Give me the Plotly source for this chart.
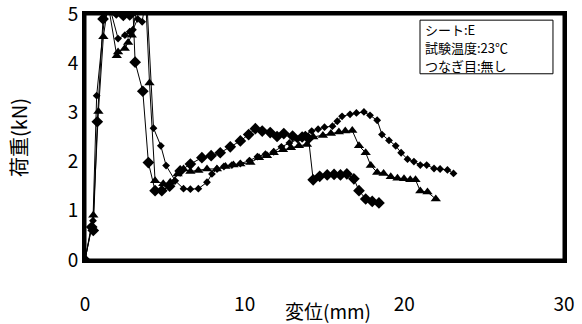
import plotly.graph_objects as go

# Load–displacement curves, three specimens
disp_a = [0, 0.42, 0.52, 0.77, 1.13, 1.5, 1.96, 2.4, 2.8, 3.0, 3.14, 3.62, 3.97, 4.39,
          4.81, 5.3, 5.96, 6.6, 7.32, 7.9, 8.47, 9.1, 9.73, 10.25, 10.67, 11.1, 11.6,
          12.03, 12.45, 13.0, 13.6, 14.0, 14.29, 14.7, 15.17, 15.6, 16.0, 16.4, 16.84,
          17.16, 17.58, 17.99, 18.41]
load_a = [0, 0.67, 0.6, 2.81, 4.9, 5.3, 5.02, 4.97, 4.98, 5.1, 4.02, 3.43, 1.98, 1.41,
          1.41, 1.5, 1.81, 1.95, 2.08, 2.12, 2.18, 2.3, 2.42, 2.55, 2.67, 2.62, 2.59,
          2.51, 2.57, 2.52, 2.5, 2.47, 1.63, 1.7, 1.73, 1.74, 1.73, 1.75, 1.65,
          1.41, 1.24, 1.19, 1.16]

disp_b = [0, 0.52, 0.84, 1.15, 1.45, 1.99, 2.07, 2.49, 2.7, 2.93, 3.3, 3.8, 4.04, 4.39,
          4.9, 5.34, 5.8, 6.17, 6.6, 7.1, 7.64, 8.26, 8.8, 9.3, 9.73, 10.36, 10.9, 11.4,
          11.82, 12.4, 12.9, 13.4, 13.9, 14.3, 14.9, 15.4, 15.9, 16.3, 16.74, 17.16,
          17.58, 17.9, 18.3, 18.7, 19.15, 19.57, 19.98, 20.37, 20.7, 21.0, 21.45, 21.97]
load_b = [0, 0.91, 3.02, 4.54, 5.2, 4.15, 4.23, 4.3, 4.42, 4.57, 5.2, 5.3, 3.6, 1.61,
          1.55, 1.58, 1.75, 1.85, 1.8, 1.82, 1.85, 1.85, 1.9, 1.93, 1.95, 1.98, 2.08, 2.12,
          2.18, 2.24, 2.28, 2.32, 2.35, 2.5, 2.53, 2.57, 2.6, 2.62, 2.63, 2.32,
          2.18, 1.92, 1.78, 1.76, 1.69, 1.66, 1.65, 1.63, 1.63, 1.4, 1.38, 1.24]

disp_c = [0, 0.5, 0.73, 1.21, 1.5, 2.07, 2.5, 2.8, 3.0, 3.3, 3.58, 3.85, 4.29, 4.75,
          5.08, 5.65, 6.17, 6.6, 7.1, 7.64, 7.95, 8.27, 8.7, 9.2, 9.73, 10.3, 10.8,
          11.3, 11.82, 12.3, 12.8, 13.3, 13.8, 14.2, 14.6, 15.0, 15.5, 15.8, 16.1,
          16.6, 17.0, 17.47, 17.85, 18.3, 18.6, 19.04, 19.46, 19.8, 20.2, 20.6, 21.0,
          21.4, 21.86, 22.24, 22.7, 23.08]
load_c = [0, 0.8, 3.34, 4.9, 5.2, 4.5, 4.57, 4.64, 4.68, 4.9, 4.84, 5.4, 2.68, 2.32,
          1.92, 1.61, 1.45, 1.44, 1.45, 1.58, 1.75, 1.85, 1.9, 1.93, 1.96, 2.02, 2.1,
          2.15, 2.2, 2.3, 2.38, 2.45, 2.55, 2.62, 2.66, 2.7, 2.72, 2.82, 2.92,
          2.96, 2.99, 3.01, 2.94, 2.84, 2.55, 2.43, 2.32, 2.18, 2.05, 2.0, 1.93,
          1.93, 1.86, 1.85, 1.83, 1.76]

x_ticks = [0, 10, 20, 30]
x_tick_labels = ["0", "10", "20", "30"]
y_ticks = [0, 1, 2, 3, 4, 5]
info_lines = ["シート:E", "試験温度:23℃", "つなぎ目:無し"]

FONT = "Noto Sans CJK JP"

fig = go.Figure()
series = [
    (disp_a, load_a, "diamond", 9),
    (disp_b, load_b, "triangle-up", 9),
    (disp_c, load_c, "diamond", 6),
]
for xs, ys, sym, size in series:
    fig.add_trace(go.Scatter(
        x=xs, y=ys, mode="lines+markers",
        line=dict(color="black", width=1),
        marker=dict(symbol=sym, size=size, color="black"),
        showlegend=False,
    ))

# heavy black frame from the axis lines
axis_common = dict(
    showgrid=False, zeroline=False, automargin=False,
    showline=True, linecolor="black", linewidth=3, mirror=True,
    tickfont=dict(family=FONT, size=19, color="black"),
    ticklabeloverflow="allow",
)
# x labels sit one line lower than the axis; y labels are padded away from it
fig.update_xaxes(range=[0, 30], tickvals=x_ticks,
                 ticktext=["<br>" + t for t in x_tick_labels], **axis_common)
fig.update_yaxes(range=[0, 5], tickvals=y_ticks,
                 ticksuffix="\u00a0\u00a0\u00a0", **axis_common)

# frame also drawn as an outline over the plotting area
fig.add_shape(type="rect", xref="paper", yref="paper", x0=0, x1=1, y0=0, y1=1,
              line=dict(color="black", width=3))

fig.add_annotation(
    xref="paper", yref="paper", x=0.507, y=-0.205, xanchor="center", yanchor="middle",
    text="変位(mm)", showarrow=False, font=dict(family=FONT, size=19, color="black"),
)
fig.add_annotation(
    xref="paper", yref="paper", x=-0.14, y=0.5, xanchor="center", yanchor="middle",
    text="荷重(kN)", textangle=-90, showarrow=False,
    font=dict(family=FONT, size=20, color="black"),
)

# condition box
box_x0, box_x1, box_y0, box_y1 = 0.6994, 0.977, 0.757, 0.975
fig.add_shape(type="rect", xref="paper", yref="paper",
              x0=box_x0, x1=box_x1, y0=box_y0, y1=box_y1,
              line=dict(color="black", width=1), fillcolor="white", layer="above")
line_ys = [0.937, 0.864, 0.791]
for txt, ly in zip(info_lines, line_ys):
    fig.add_annotation(
        xref="paper", yref="paper", x=box_x0 + 0.006, y=ly,
        xanchor="left", yanchor="middle", text=txt, showarrow=False,
        font=dict(family=FONT, size=13, color="black"),
    )

fig.update_layout(
    width=582, height=324,
    margin=dict(l=85, r=18, t=14, b=64),
    paper_bgcolor="white", plot_bgcolor="white",
)

fig.write_html("out.html")
